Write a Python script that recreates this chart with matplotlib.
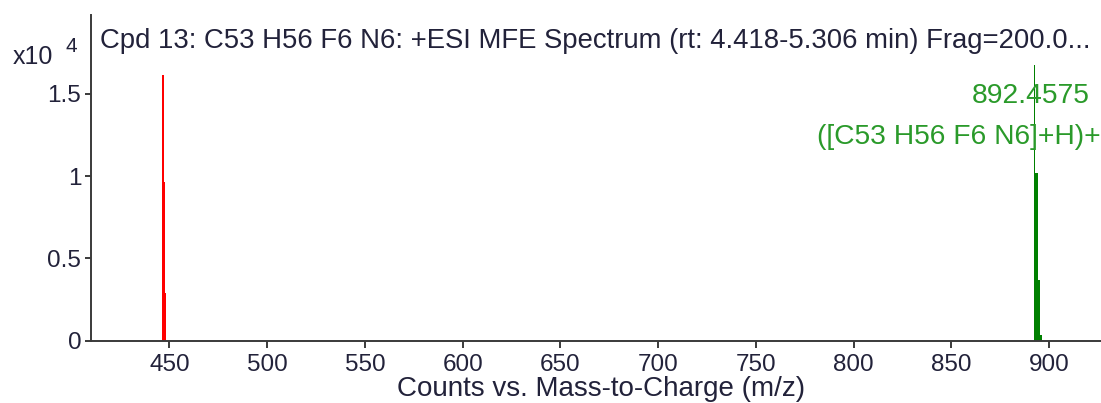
import matplotlib
matplotlib.use("Agg")
import matplotlib.pyplot as plt
import matplotlib.transforms as mtransforms

plt.rcParams['font.family'] = ['Liberation Sans', 'DejaVu Sans']

# Data (counts)
red_mz = [446.73, 447.23, 447.73]
red_counts = [16150, 9660, 2870]
green_mz = [892.4575, 893.46, 894.46, 895.47]
green_counts = [16760, 10170, 3680, 330]

xticks = [450, 500, 550, 600, 650, 700, 750, 800, 850, 900]
yticks = [0, 5000, 10000, 15000]
ytick_labels = ["0", "0.5", "1", "1.5"]

title = "Cpd 13: C53 H56 F6 N6: +ESI MFE Spectrum (rt: 4.418-5.306 min) Frag=200.0..."
peak_label = "892.4575"
peak_formula = "([C53 H56 F6 N6]+H)+"
xlabel = "Counts vs. Mass-to-Charge (m/z)"

W, H = 1101, 403
fig = plt.figure(figsize=(W / 100, H / 100), dpi=100)
ax = fig.add_axes([91 / W, 1 - 340.5 / H, (1101 - 91) / W, (340.5 - 15) / H])

text_col = "#22223a"
fs_tick = 17.5
fs_text = 19.8

# red isotope cluster
for mz, c, w in zip(red_mz, red_counts, [0.7, 1.3, 1.2]):
    ax.bar(mz, c, width=w, color="#ff0000", linewidth=0, align="center")
# green isotope cluster
for mz, c, w in zip(green_mz, green_counts, [0.7, 1.4, 1.5, 1.6]):
    ax.bar(mz, c, width=w, color="#008000", linewidth=0, align="center")

ax.set_xlim(409.9, 926.5)
ax.set_ylim(0, 19800)
ax.set_xticks(xticks)
ax.set_xticklabels([str(v) for v in xticks])
ax.set_yticks(yticks)
ax.set_yticklabels(ytick_labels)

for s in ["top", "right"]:
    ax.spines[s].set_visible(False)
for s in ["left", "bottom"]:
    ax.spines[s].set_color("#3a3a3a")
    ax.spines[s].set_linewidth(1.4)

ax.tick_params(axis="x", direction="out", length=5, width=1.4, color="#3a3a3a",
               labelsize=fs_tick, labelcolor=text_col, pad=4.5)
ax.tick_params(axis="y", direction="out", length=4, width=1.4, color="#3a3a3a",
               labelsize=fs_tick, labelcolor=text_col, pad=3)

# title inside axes region
fig.text(100 / W, 1 - 41 / H, title, ha="left", va="center", fontsize=fs_text, color=text_col)

# peak labels
ax.annotate(peak_label, xy=(green_mz[0], 14900), xytext=(-4, 0), textcoords="offset pixels",
            ha="center", va="center", fontsize=fs_text + 0.5, color="#2a9a2a")
trans = mtransforms.blended_transform_factory(ax.transAxes, ax.transData)
ax.text(0.9995, 12380, peak_formula, ha="right", va="center", fontsize=fs_text + 0.5,
        color="#2a9a2a", transform=trans)

# axis scale multiplier
fig.text(13 / W, 1 - 57 / H, "x10", ha="left", va="center", fontsize=fs_tick + 0.5, color=text_col)
fig.text(65 / W, 1 - 46 / H, "4", ha="left", va="center", fontsize=fs_tick - 2.5, color=text_col)

# x label
fig.text(601 / W, 1 - 389.5 / H, xlabel, ha="center", va="center", fontsize=fs_text + 0.2,
         color=text_col)

fig.savefig("out.png", dpi=100)
